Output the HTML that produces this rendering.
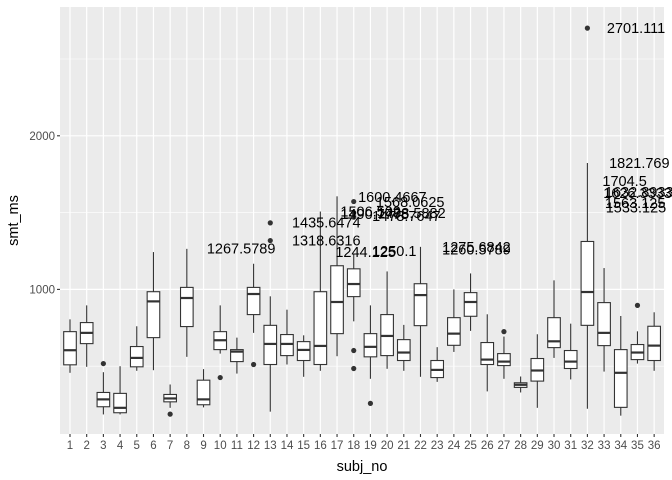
<!DOCTYPE html>
<html><head><meta charset="utf-8"><style>
html,body{margin:0;padding:0;background:#fff;}
svg{display:block;font-family:"Liberation Sans",Arial,sans-serif;}
</style></head><body>
<svg id="chart" width="672" height="480" viewBox="0 0 672 480"></svg>
<script>
const categories=[1,2,3,4,5,6,7,8,9,10,11,12,13,14,15,16,17,18,19,20,21,22,23,24,25,26,27,28,29,30,31,32,33,34,35,36];
const lowWhisker=[457,496,186,186,470,474,229,561,232,582,452,717,204,511,431,470,565,792,418,483,470,431,398,593,730,336,418,329,229,554,414,223,465,178,517,470];
const q1=[509,647,236,197,496,686,268,758,249,608,530,836,511,569,537,511,712,953,561,569,537,764,426,636,825,511,504,362,403,621,485,766,634,232,543,537];
const median=[604,717,284,229,554,922,290,944,284,669,595,970,645,645,606,632,918,1035,626,697,589,963,476,712,918,543,530,379,472,662,530,983,717,457,589,634];
const q3=[725,784,329,323,628,985,316,1013,409,725,608,1013,766,706,660,985,1154,1134,712,836,673,1037,537,816,979,654,582,392,550,816,602,1312,914,608,641,760];
const highWhisker=[805,896,461,500,760,1243,381,1264,481,896,686,1167,955,868,701,1507,1606,1232,896,1117,769,1277,624,1000,1104,838,693,433,708,1059,777,1823,1139,827,727,851];
const outlierCat=[3,7,10,12,13,13,18,18,18,18,18,19,27,32,35];
const outlierVal=[517,188,426,511,1433,1318,1572,1500,1470,602,485,258,725,2701,896];
const labelText=["2701.111","1267.5789","1435.6474","1318.6316","1600.4667","1568.0625","1506.502","1498.5882","1490.7778","1478.7647","1244.125","1250.1","1275.6842","1260.5789","1821.769","1704.5","1632.8933","1626.3333","1563.125","1533.125"];
const labelCat=[33.17,9.2,14.3,14.3,18.26,19.33,17.2,19.4,17.2,19.1,16.9,19.1,23.3,23.3,33.3,32.9,33.05,32.95,33.05,33.1];
const labelVal=[2701.111,1267.5789,1435.6474,1318.6316,1600.4667,1568.0625,1506.502,1498.5882,1490.7778,1478.7647,1244.125,1250.1,1275.6842,1260.5789,1821.769,1704.5,1632.8933,1626.3333,1563.125,1533.125];
const yTicks=[1000,2000];
const yMinor=[500,1500,2500];

const NS="http://www.w3.org/2000/svg";
const svg=document.getElementById('chart');
const P={l:60,r:664,t:7,b:434};
const xs=c=>70+(c-1)*16.69;
const ys=v=>443-v*0.1536;
function mk(tag,attrs,parent){const e=document.createElementNS(NS,tag);for(const k in attrs)e.setAttribute(k,attrs[k]);(parent||svg).appendChild(e);return e;}

const bg=mk('rect',{x:P.l,y:P.t,width:P.r-P.l,height:P.b-P.t,fill:'#EBEBEB'});


const grid=mk('g',{});


yMinor.forEach(v=>{mk('line',{x1:P.l,x2:P.r,y1:ys(v),y2:ys(v),stroke:'#fff','stroke-width':0.6},grid);});
yTicks.forEach(v=>{mk('line',{x1:P.l,x2:P.r,y1:ys(v),y2:ys(v),stroke:'#fff','stroke-width':1.2},grid);});
categories.forEach(c=>{mk('line',{x1:xs(c),x2:xs(c),y1:P.t,y2:P.b,stroke:'#fff','stroke-width':1.2},grid);});

const hw=6.3;
categories.forEach((c,i)=>{
  const g=mk('g',{});
  
  
  const x=xs(c);
  mk('line',{x1:x,x2:x,y1:ys(highWhisker[i]),y2:ys(q3[i]),stroke:'#333','stroke-width':1.1},g);
  mk('line',{x1:x,x2:x,y1:ys(q1[i]),y2:ys(lowWhisker[i]),stroke:'#333','stroke-width':1.1},g);
  mk('rect',{x:x-hw,y:ys(q3[i]),width:2*hw,height:ys(q1[i])-ys(q3[i]),fill:'#fff',stroke:'#333','stroke-width':1.1},g);
  mk('line',{x1:x-hw,x2:x+hw,y1:ys(median[i]),y2:ys(median[i]),stroke:'#333','stroke-width':2.2},g);
});
outlierCat.forEach((c,i)=>{
  const p=mk('circle',{cx:xs(c),cy:ys(outlierVal[i]),r:2.6,fill:'#333'});
  
  
});
labelText.forEach((t,i)=>{
  const e=mk('text',{x:xs(labelCat[i]),y:ys(labelVal[i])+5,'font-size':14.5,fill:'#000'});
  e.textContent=t;
  
  
});
yTicks.forEach(v=>{
  mk('line',{x1:P.l-3,x2:P.l,y1:ys(v),y2:ys(v),stroke:'#333','stroke-width':1.1});
  const t=mk('text',{x:P.l-5,y:ys(v)+4,'font-size':11.5,fill:'#4D4D4D','text-anchor':'end'});
  t.textContent=v;
  
  
});
categories.forEach(c=>{
  mk('line',{x1:xs(c),x2:xs(c),y1:P.b,y2:P.b+3,stroke:'#333','stroke-width':1.1});
  const t=mk('text',{x:xs(c),y:P.b+15,'font-size':11.5,fill:'#4D4D4D','text-anchor':'middle'});
  t.textContent=c;
  
  
});
const xt=mk('text',{x:(P.l+P.r)/2,y:471,'font-size':14.5,fill:'#000','text-anchor':'middle'});
xt.textContent='subj_no';


const yt=mk('text',{x:0,y:0,'font-size':14.5,fill:'#000','text-anchor':'middle',transform:'translate(18,'+((P.t+P.b)/2)+') rotate(-90)'});
yt.textContent='smt_ms';


</script>
</body></html>
